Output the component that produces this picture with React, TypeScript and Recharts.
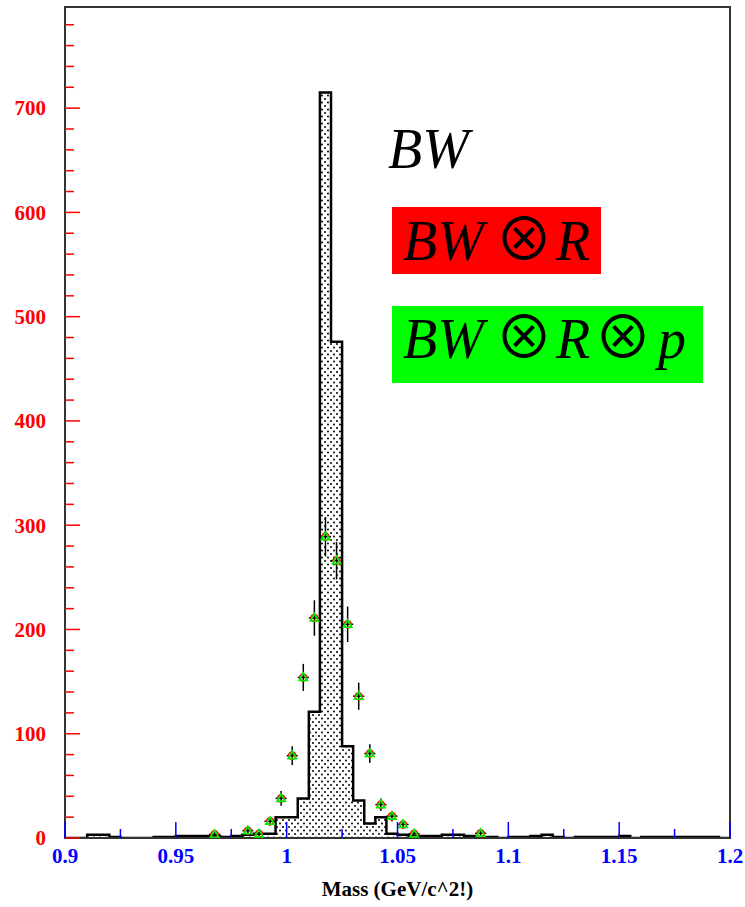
import React from 'react';
import {
  ComposedChart,
  Area,
  Scatter,
  ErrorBar,
  XAxis,
  YAxis,
  ReferenceArea,
  Label,
} from 'recharts';

// histogram: lower edge of each 5 MeV bin and its content
const binEdges = [
  0.9, 0.905, 0.91, 0.915, 0.92, 0.925, 0.93, 0.935, 0.94, 0.945,
  0.95, 0.955, 0.96, 0.965, 0.97, 0.975, 0.98, 0.985, 0.99, 0.995,
  1.0, 1.005, 1.01, 1.015, 1.02, 1.025, 1.03, 1.035, 1.04, 1.045,
  1.05, 1.055, 1.06, 1.065, 1.07, 1.075, 1.08, 1.085, 1.09, 1.095,
  1.1, 1.105, 1.11, 1.115, 1.12, 1.125, 1.13, 1.135, 1.14, 1.145,
  1.15, 1.155, 1.16, 1.165, 1.17, 1.175, 1.18, 1.185, 1.19, 1.195,
];
const binCounts = [
  0, 0, 3, 3, 1, 0, 0, 0, 1, 1,
  2, 2, 2, 2, 1, 2, 3, 4, 4, 20,
  20, 38, 121, 715, 476, 88, 36, 14, 20, 4,
  3, 2, 2, 2, 3, 3, 2, 1, 1, 0,
  1, 1, 2, 3, 1, 0, 1, 1, 1, 1,
  2, 0, 1, 1, 1, 1, 1, 1, 1, 0,
];
const histEnd = 1.2;

// measured points (bin centres)
const pointMass = [
  0.9675, 0.9825, 0.9875, 0.9925, 0.9975, 1.0025, 1.0075, 1.0125, 1.0175,
  1.0225, 1.0275, 1.0325, 1.0375, 1.0425, 1.0475, 1.0525, 1.0575, 1.0875,
];
const pointCounts = [
  3.5, 7, 4, 16, 38, 79, 154, 211, 289,
  266, 205, 136, 81, 32, 21, 13, 4, 4.5,
];
const pointErrors = [
  2, 3, 2, 4, 7, 9, 13, 17, 19,
  18, 17, 13, 9, 6, 5, 4, 2, 2,
];
const halfBin = 0.0025;

const xTicks = [0.9, 0.925, 0.95, 0.975, 1.0, 1.025, 1.05, 1.075, 1.1, 1.125, 1.15, 1.175, 1.2];
const xMajor = [0.9, 0.95, 1.0, 1.05, 1.1, 1.15, 1.2];
const yTicks = [
  0, 20, 40, 60, 80, 100, 120, 140, 160, 180, 200, 220, 240, 260, 280, 300,
  320, 340, 360, 380, 400, 420, 440, 460, 480, 500, 520, 540, 560, 580, 600,
  620, 640, 660, 680, 700, 720, 740, 760, 780,
];
const yMajor = [0, 100, 200, 300, 400, 500, 600, 700];
const yMax = 797;

const W = 745;
const H = 907;
const PLOT_LEFT = 65;
const PLOT_BOTTOM = 838;
const SERIF = '"Liberation Serif", "Times New Roman", serif';

const histData = [
  ...binEdges.map((x, i) => ({ x, h: binCounts[i] })),
  { x: histEnd, h: binCounts[binCounts.length - 1] },
];

const pointData = pointMass.map((x, i) => ({
  x,
  y: pointCounts[i],
  ey: pointErrors[i],
  ex: halfBin,
}));

const XTick = (props: any) => {
  const { x, payload } = props;
  const v = payload.value;
  const major = xMajor.some((m) => Math.abs(m - v) < 1e-6);
  return (
    <g>
      <line x1={x} x2={x} y1={PLOT_BOTTOM} y2={PLOT_BOTTOM - (major ? 16 : 9)} stroke="#0000ff" strokeWidth={1.5} />
      {major && (
        <text x={x} y={PLOT_BOTTOM + 25} textAnchor="middle" fill="#0000ff" fontFamily={SERIF} fontWeight="bold" fontSize={21}>
          {String(Number(v.toFixed(3)))}
        </text>
      )}
    </g>
  );
};

const YTick = (props: any) => {
  const { y, payload } = props;
  const v = payload.value;
  const major = yMajor.includes(v);
  return (
    <g>
      <line x1={PLOT_LEFT} x2={PLOT_LEFT + (major ? 15 : 9)} y1={y} y2={y} stroke="#ff0000" strokeWidth={1.5} />
      {major && (
        <text x={46} y={y} dy="0.35em" textAnchor="end" fill="#ff0000" fontFamily={SERIF} fontWeight="bold" fontSize={21}>
          {v}
        </text>
      )}
    </g>
  );
};

const Marker = (props: any) => {
  const { cx, cy } = props;
  return (
    <g>
      <circle cx={cx} cy={cy} r={3.5} fill="none" stroke="#ff0000" strokeWidth={1.6} />
      <polygon
        points={`${cx},${cy - 4.5} ${cx - 4.2},${cy + 3} ${cx + 4.2},${cy + 3}`}
        fill="none"
        stroke="#00ee00"
        strokeWidth={1.6}
      />
    </g>
  );
};

const otimes = { fontStyle: 'normal' as const, fontSize: 58, fontFamily: '"Noto Sans CJK JP", "DejaVu Serif", serif' };

export default function App() {
  return (
    <div style={{ position: 'absolute', left: 0, top: 0, width: W, height: H, background: '#fff' }}>
      <ComposedChart
        width={W}
        height={H}
        data={histData}
        margin={{ top: 7, right: 15, bottom: 0, left: 0 }}
      >
        <defs>
          <pattern id="dots" width="6" height="7" patternUnits="userSpaceOnUse">
            <rect width="6" height="7" fill="#fff" />
            <circle cx="1" cy="1" r="1" fill="#000" />
            <circle cx="4" cy="4.5" r="1" fill="#000" />
          </pattern>
        </defs>
        <XAxis
          dataKey="x"
          type="number"
          domain={[0.9, 1.2]}
          ticks={xTicks}
          interval={0}
          height={69}
          axisLine={false}
          tickLine={false}
          tick={<XTick />}
          allowDataOverflow
        >
          <Label
            value="Mass (GeV/c^2!)"
            position="insideBottom"
            offset={11}
            style={{ fontFamily: SERIF, fontWeight: 'bold', fontSize: 21, fill: '#000' }}
          />
        </XAxis>
        <YAxis
          type="number"
          domain={[0, yMax]}
          ticks={yTicks}
          interval={0}
          width={65}
          axisLine={false}
          tickLine={false}
          tick={<YTick />}
          allowDataOverflow
        />
        <Area
          type="stepAfter"
          dataKey="h"
          stroke="#000"
          strokeWidth={2.5}
          fill="url(#dots)"
          fillOpacity={1}
          isAnimationActive={false}
          dot={false}
          activeDot={false}
        />
        <Scatter data={pointData} dataKey="y" shape={<Marker />} isAnimationActive={false}>
          <ErrorBar dataKey="ey" direction="y" width={0} stroke="#000" strokeWidth={1.5} />
          <ErrorBar dataKey="ex" direction="x" width={0} stroke="#000" strokeWidth={1.5} />
        </Scatter>
        <ReferenceArea x1={0.9} x2={1.2} y1={0} y2={yMax} fill="none" stroke="#333" strokeWidth={2} />
      </ComposedChart>
      <svg width={W} height={H} style={{ position: 'absolute', left: 0, top: 0, pointerEvents: 'none' }}>
        <g fontFamily={SERIF} fontStyle="italic" fontSize={56} fill="#000">
          <text x={388} y={168}>BW</text>
          <rect x={392} y={207} width={209} height={67} fill="#ff0000" />
          <text y={260}>
            <tspan x={403}>BW</tspan>
            <tspan x={495} style={otimes}>⊗</tspan>
            <tspan x={556}>R</tspan>
          </text>
          <rect x={392} y={306} width={311} height={77} fill="#00ff00" />
          <text y={358}>
            <tspan x={403}>BW</tspan>
            <tspan x={495} style={otimes}>⊗</tspan>
            <tspan x={556}>R</tspan>
            <tspan x={594} style={otimes}>⊗</tspan>
            <tspan x={658}>p</tspan>
          </text>
        </g>
      </svg>
    </div>
  );
}
